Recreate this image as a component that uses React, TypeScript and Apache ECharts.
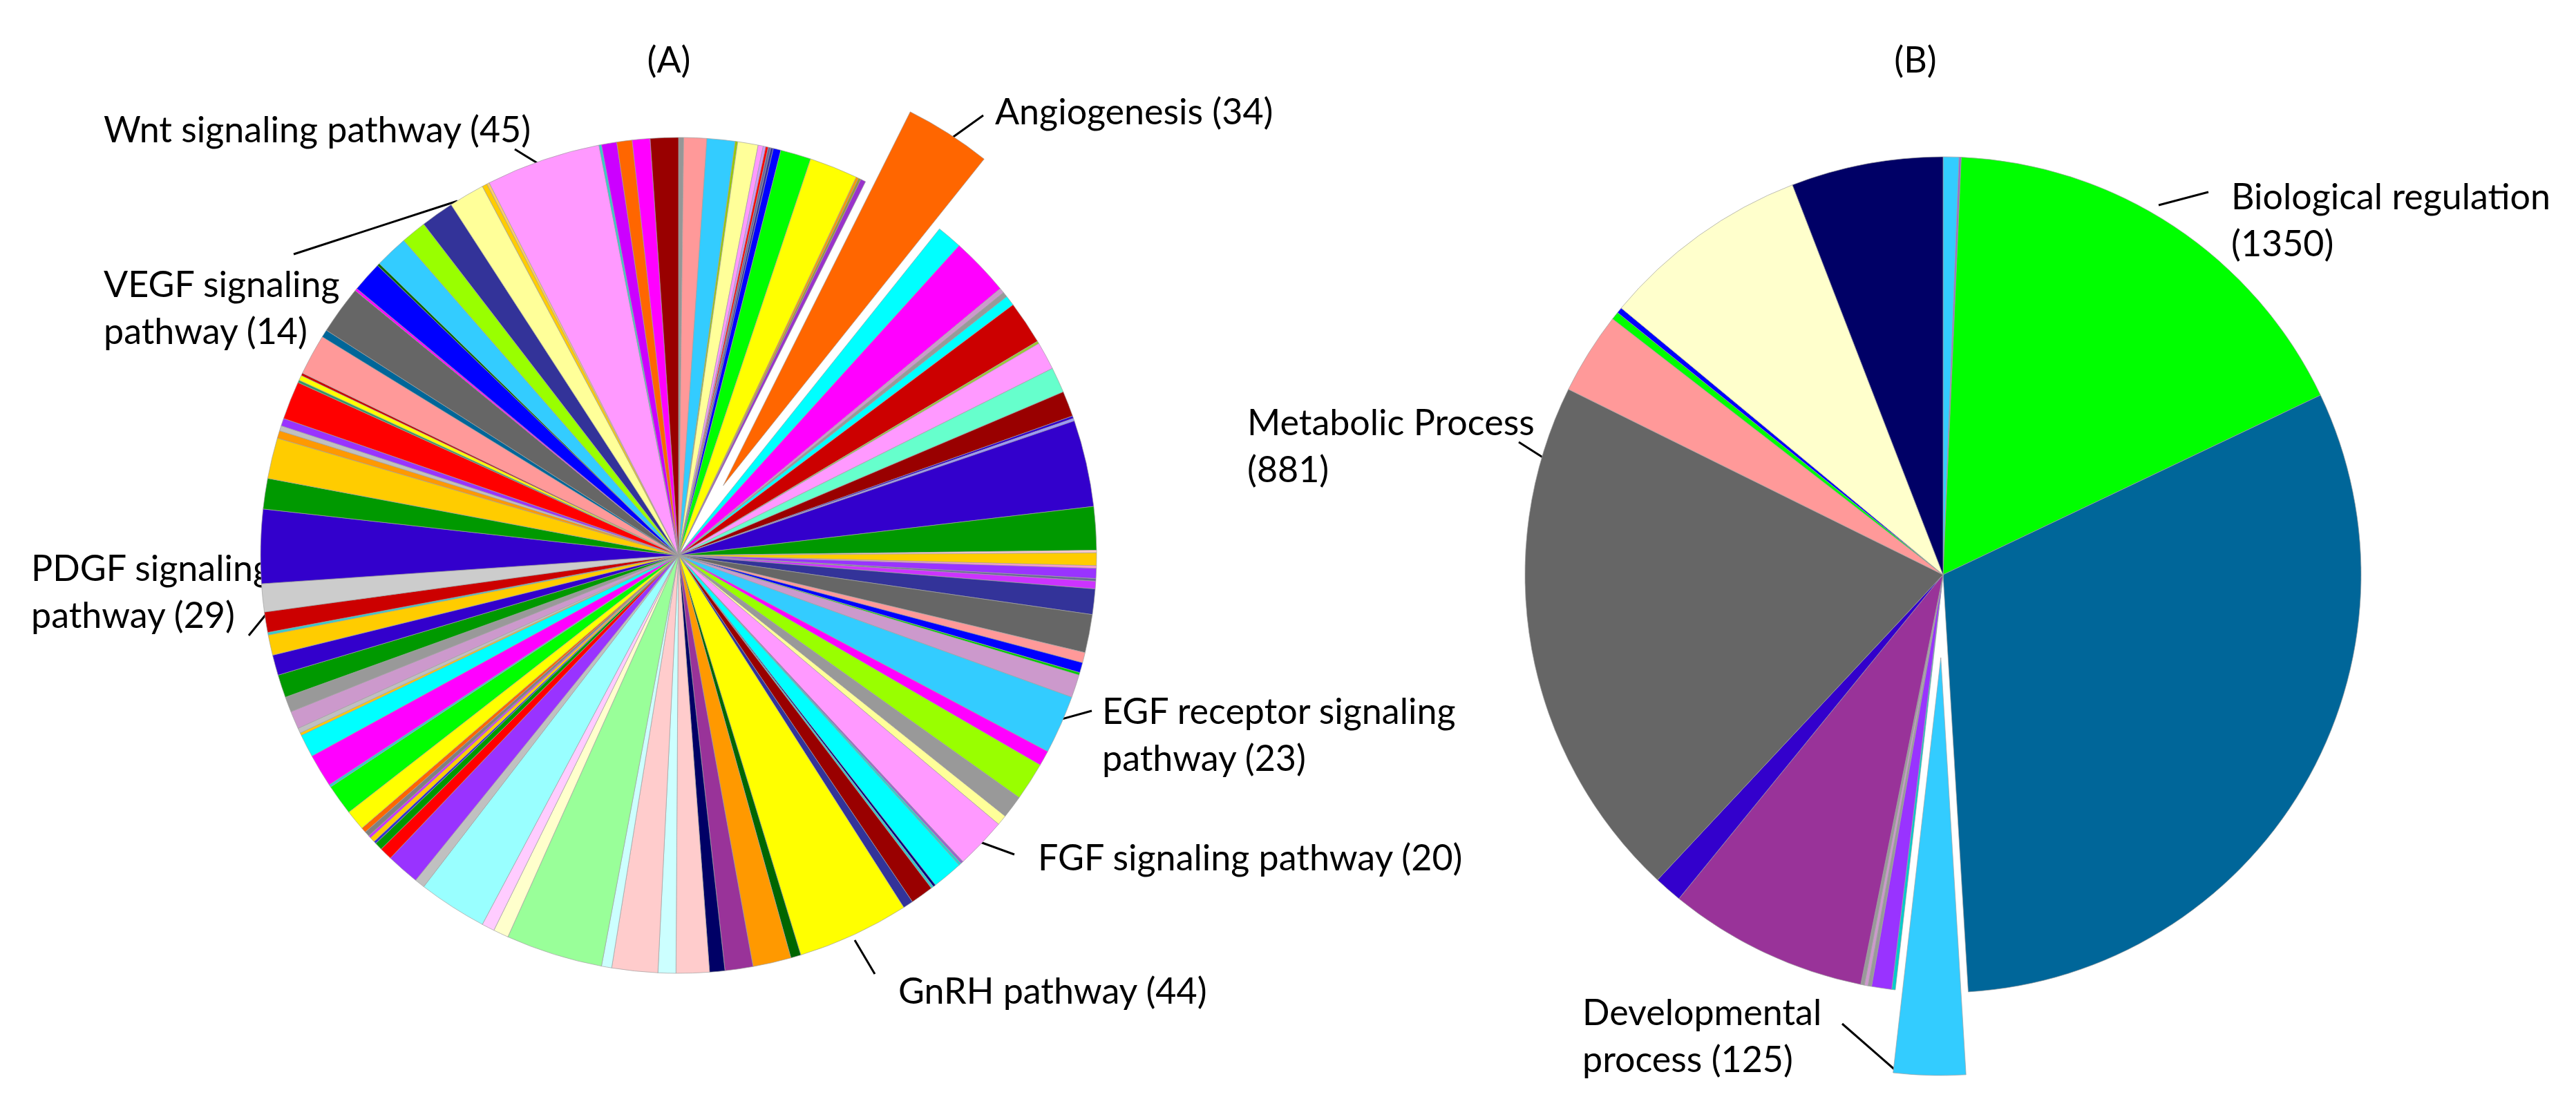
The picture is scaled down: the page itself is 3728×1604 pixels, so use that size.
import React, { useEffect, useRef } from "react";
import * as echarts from "echarts";

// ---------- Panel (A): PANTHER pathways, gene counts per slice (clockwise from 12 o'clock)
const pathwayCounts = [
  2, 9, 11, 1, 8, 2, 1, 1, 1, 1, 3, 12, 19, 1, 1, 2,
  34,
  10, 23, 2, 2, 4, 17, 1, 11, 10, 10, 1, 1, 34,
  17, 1, 5, 1, 4, 1, 3, 10, 15, 4, 4, 1, 9,
  23,
  6, 15, 9, 4,
  20,
  1, 1, 12, 1, 1, 9, 4,
  44,
  4, 15, 11, 6, 13, 7, 18, 4, 38, 6, 5, 27, 4, 13, 5, 3, 1, 2, 1, 2, 2, 8, 12, 1, 13, 9,
  1, 2, 7, 6, 9, 8, 8, 1, 8, 11,
  29,
  12, 16, 3, 2, 3, 15, 1, 2, 1, 16, 3, 19, 1, 12, 1, 13, 10, 13,
  14,
  2, 1,
  45,
  1, 6, 6, 7, 11,
];
const pathwayColors = [
  "#969696", "#FF9999", "#33CCFF", "#99CC00", "#FFFF99", "#FF99FF", "#CC99FF", "#FF0000", "#666699", "#333399", "#0000FF", "#00FF00", "#FFFF00", "#FF9900", "#999933", "#9933CC",
  "#FF6600",
  "#00FFFF", "#FF00FF", "#CC99CC", "#999999", "#00FFFF", "#CC0000", "#99CC33", "#FF99FF", "#66FFCC", "#990000", "#3300CC", "#9999FF", "#3300CC",
  "#009900", "#FFCCCC", "#FFCC00", "#FF99CC", "#9933FF", "#666699", "#CC33FF", "#333399", "#666666", "#FF9999", "#0000FF", "#00CC00", "#CC99CC",
  "#33CCFF",
  "#FF00FF", "#99FF00", "#999999", "#FFFF99",
  "#FF99FF",
  "#9966CC", "#33CCCC", "#00FFFF", "#000080", "#33CCCC", "#990000", "#333399",
  "#FFFF00",
  "#006600", "#FF9900", "#993399", "#000066", "#FFCCCC", "#CCFFFF", "#FFCCCC", "#CCFFFF", "#99FF99", "#FFFFCC", "#FFCCFF", "#99FFFF", "#C0C0C0", "#9933FF", "#FF0000", "#009900", "#3333CC", "#FFCC00", "#CC33FF", "#808080", "#FF6600", "#FFFF00", "#00FF00", "#33CCCC", "#FF00FF", "#00FFFF",
  "#FFCC00", "#C0C0C0", "#CC99CC", "#999999", "#009900", "#3300CC", "#FFCC00", "#33CCCC", "#CC0000", "#CCCCCC",
  "#3300CC",
  "#009900", "#FFCC00", "#FF9900", "#C0C0C0", "#9933FF", "#FF0000", "#339966", "#FFFF00", "#CC0000", "#FF9999", "#006699", "#666666", "#FF00FF", "#0000FF", "#006600", "#33CCFF", "#99FF00", "#333399",
  "#FFFF99",
  "#FFCC00", "#FFCC66",
  "#FF99FF",
  "#33CCCC", "#CC00FF", "#FF6600", "#FF00FF", "#990000",
];
// named (labelled) slices of panel A: index -> name
const pathwayNamed: Record<number, string> = {
  16: "Angiogenesis",
  43: "EGF receptor signaling pathway",
  48: "FGF signaling pathway",
  56: "GnRH pathway",
  93: "PDGF signaling pathway",
  112: "VEGF signaling pathway",
  115: "Wnt signaling pathway",
};
const pathwayExploded = 16;

// ---------- Panel (B): GO biological process, slice shares (tenths of a degree), clockwise from 12 o'clock
const processNames = [
  "Other 1", "Other 2", "Biological regulation", "Cellular process", "Developmental process",
  "Other 3", "Other 4", "Other 5", "Other 6", "Other 7", "Other 8", "Other 9",
  "Metabolic Process", "Other 10", "Other 11", "Other 12", "Other 13", "Other 14",
];
const processShares = [22, 3, 620, 1119, 100, 5, 28, 5, 5, 5, 278, 39, 732, 114, 11, 8, 292, 211];
const processColors = [
  "#33CCFF", "#9966CC", "#00FF00", "#006699", "#33CCFF",
  "#00CCCC", "#9933FF", "#999999", "#CC99CC", "#999999", "#993399", "#3300CC",
  "#666666", "#FF9999", "#00FF00", "#0000FF", "#FFFFCC", "#000066",
];
const processExploded = 4;

// ---------- annotation texts
const titleA = "(A)";
const titleB = "(B)";
const labelWnt = ["Wnt signaling pathway (45)"];
const labelVegf = ["VEGF signaling", "pathway (14)"];
const labelPdgf = ["PDGF signaling", "pathway (29)"];
const labelAngio = ["Angiogenesis (34)"];
const labelEgf = ["EGF receptor signaling", "pathway (23)"];
const labelFgf = ["FGF signaling pathway (20)"];
const labelGnrh = ["GnRH pathway (44)"];
const labelBio = ["Biological regulation", "(1350)"];
const labelMeta = ["Metabolic Process", "(881)"];
const labelDev = ["Developmental", "process (125)"];

const FONT = "52px Lato, 'Open Sans', sans-serif";
const LINE_H = 68;

function textLines(lines: string[], x: number, baseline: number, align = "left") {
  return lines.map((t, i) => ({
    type: "text",
    x,
    y: baseline + i * LINE_H - 17,
    silent: true,
    style: { text: t, font: FONT, fill: "#000", align, verticalAlign: "middle" },
  }));
}
function leader(x1: number, y1: number, x2: number, y2: number) {
  return {
    type: "line",
    silent: true,
    shape: { x1, y1, x2, y2 },
    style: { stroke: "#000", lineWidth: 3 },
  };
}

export default function App() {
  const ref = useRef<HTMLDivElement>(null);
  useEffect(() => {
    document.body.style.margin = "0";
    if (!ref.current) return;
    const chart = echarts.init(ref.current, undefined, { renderer: "svg" });

    const dataA = pathwayCounts.map((v, i) => ({
      value: v,
      name: pathwayNamed[i] ?? `Pathway ${i + 1}`,
      selected: i === pathwayExploded,
      itemStyle: { color: pathwayColors[i] },
    }));
    const dataB = processShares.map((v, i) => ({
      value: v,
      name: processNames[i],
      selected: i === processExploded,
      itemStyle: { color: processColors[i] },
    }));

    const pieCommon = {
      type: "pie",
      startAngle: 90,
      clockwise: true,
      selectedMode: "single",
      selectedOffset: 120,
      avoidLabelOverlap: false,
      label: { show: false },
      labelLine: { show: false },
      emphasis: { disabled: true },
      select: { itemStyle: {} },
      itemStyle: { borderColor: "#a0a0a0", borderWidth: 0.7 },
    };

    const graphics: any[] = [
      ...textLines([titleA], 968, 102, "center"),
      ...textLines([titleB], 2772, 102, "center"),
      ...textLines(labelWnt, 150, 203),
      leader(745, 216, 789, 243),
      ...textLines(labelVegf, 150, 427),
      leader(425, 368, 662, 291),
      ...textLines(labelPdgf, 45, 838),
      leader(360, 920, 443, 818),
      ...textLines(labelAngio, 1440, 177),
      leader(1377, 200, 1423, 167),
      ...textLines(labelEgf, 1595, 1045),
      leader(1508, 1049, 1580, 1029),
      ...textLines(labelFgf, 1502, 1257),
      leader(1413, 1217, 1468, 1237),
      ...textLines(labelGnrh, 1300, 1450),
      leader(1237, 1361, 1266, 1410),
      ...textLines(labelBio, 3229, 300),
      leader(3124, 297, 3196, 278),
      ...textLines(labelMeta, 1805, 627),
      leader(2198, 640, 2242, 668),
      ...textLines(labelDev, 2290, 1481),
      leader(2666, 1482, 2745, 1551),
    ];

    chart.setOption({
      animation: false,
      backgroundColor: "#ffffff",
      series: [
        { ...pieCommon, name: "Pathways", center: [982, 804], radius: 605, data: dataA },
        { ...pieCommon, name: "Biological process", center: [2812, 832], radius: 605, data: dataB },
      ],
      graphic: graphics,
    });
    return () => chart.dispose();
  }, []);
  return <div ref={ref} style={{ width: 3728, height: 1604 }} />;
}
